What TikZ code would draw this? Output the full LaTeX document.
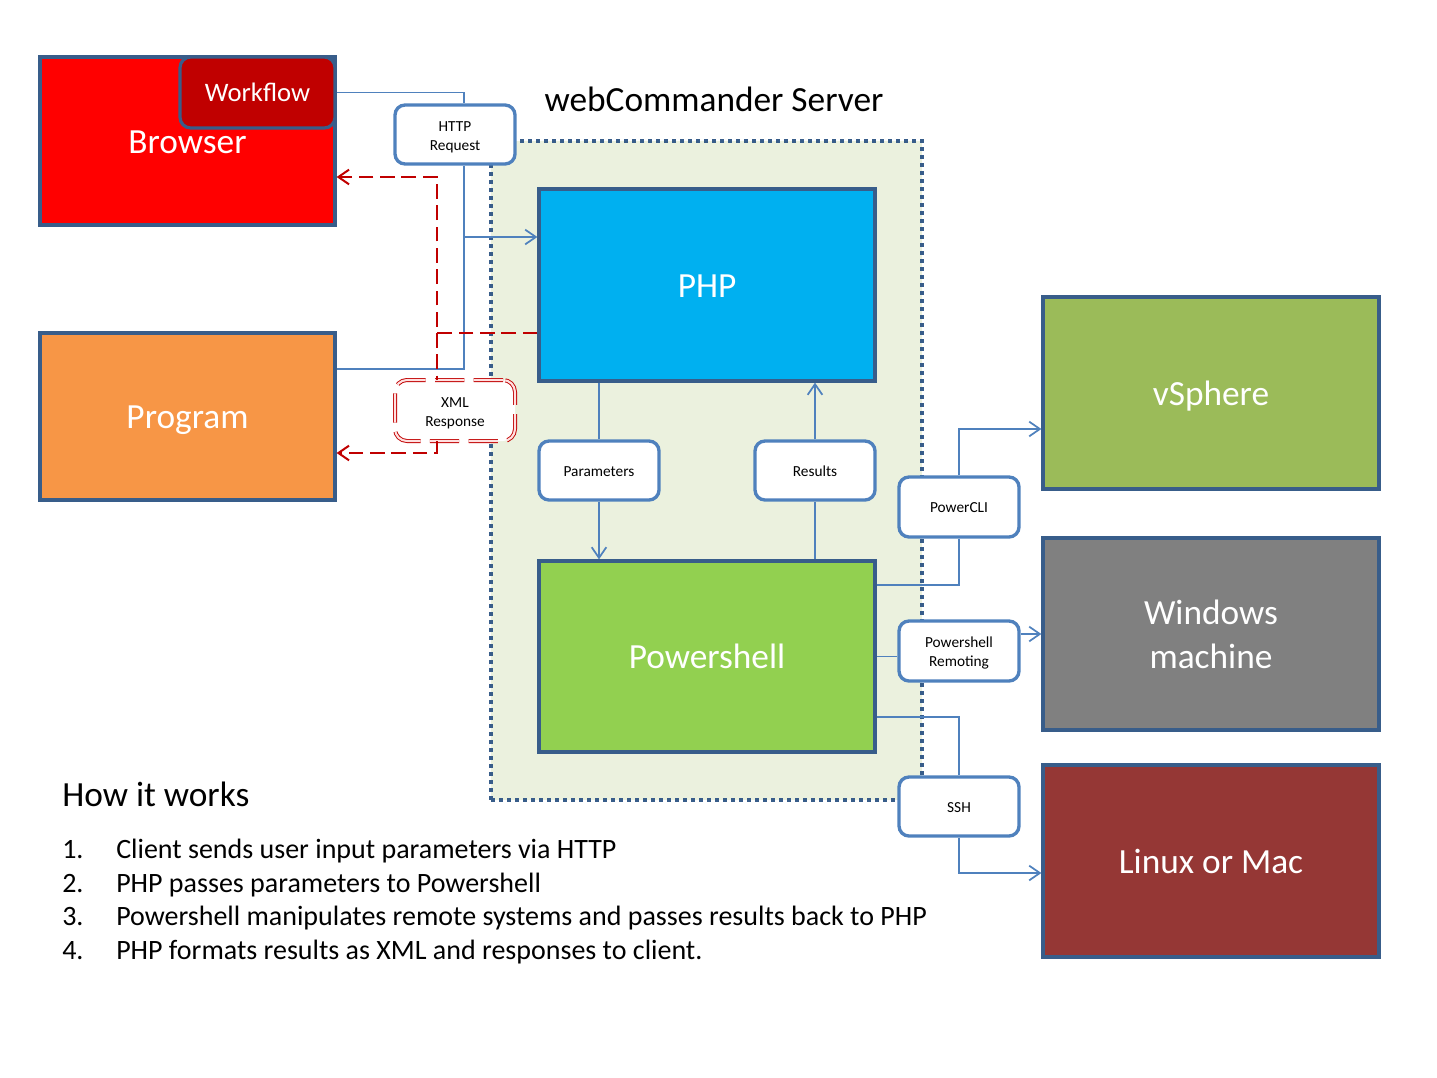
\documentclass[tikz,border=0pt]{standalone}
\usepackage{fontspec}
\setmainfont{Carlito}
\usetikzlibrary{arrows.meta}
\definecolor{bdr}{HTML}{385D8A}
\definecolor{lbl}{HTML}{4F81BD}
\definecolor{dred}{HTML}{C00000}
\definecolor{contfill}{HTML}{EBF1DE}
\definecolor{cBrowser}{HTML}{FF0000}
\definecolor{cWorkflow}{HTML}{C00000}
\definecolor{cProgram}{HTML}{F79646}
\definecolor{cPHP}{HTML}{00B0F0}
\definecolor{cPS}{HTML}{92D050}
\definecolor{cVS}{HTML}{9BBB59}
\definecolor{cWin}{HTML}{808080}
\definecolor{cLin}{HTML}{953735}
\newcommand{\lblstrut}{\rule{0pt}{11.4pt}}
\begin{document}
\begin{tikzpicture}[x=0.75pt,y=-0.75pt,
  bigbox/.style={draw=bdr, line width=2.4pt, text=white, font=\fontsize{26.5}{33}\selectfont,
    align=center, inner sep=0pt, minimum width=252pt, minimum height=144pt,
    text height=23.85pt, text depth=5.3pt},
  lblbox/.style={draw=lbl, line width=2.5pt, fill=white, rounded corners=7.5pt,
    font=\fontsize{11.5}{14.25}\selectfont, align=center, inner sep=0pt,
    minimum width=90pt, minimum height=44.25pt, text height=11.16pt, text depth=2.3pt},
  multi/.style={text height=, text depth=},
  conn/.style={draw=lbl, line width=1.3pt},
  tip/.style={-{Straight Barb[length=8pt,width=11pt]}},
  resp/.style={draw=dred, line width=1.5pt, dash pattern=on 11pt off 5pt},
  listtxt/.style={font=\fontsize{21}{25}\selectfont, anchor=base west, inner sep=0pt},
]
\useasboundingbox (0,0) rectangle (1437,1077);

% server container
\node[draw=bdr, fill=contfill, line width=3pt, dash pattern=on 3pt off 3pt,
  minimum width=323.25pt, minimum height=494.25pt, inner sep=0pt] (server) at (706.5,470.5) {};
\node[font=\fontsize{26.5}{30}\selectfont] (title) at (714,99) {webCommander Server};

% clients
\node[bigbox, fill=cBrowser, minimum width=221.25pt, minimum height=126pt] (browser) at (187.5,141) {Browser};
\node[draw=bdr, line width=2.4pt, fill=cWorkflow, rounded corners=8pt, text=white,
  font=\fontsize{20}{24}\selectfont, inner sep=0pt, minimum width=116.25pt, minimum height=53.25pt]
  (workflow) at (257.5,92.5) {Workflow};
\node[bigbox, fill=cProgram, minimum width=221.25pt, minimum height=125.25pt] (program) at (187.5,416.5) {Program};

% server parts
\node[bigbox, fill=cPHP] (php) at (707,285) {PHP};
\node[bigbox, fill=cPS, minimum height=143.25pt] (pshell) at (707,656.5) {Powershell};

% targets
\node[bigbox, fill=cVS] (vsphere) at (1211,393) {vSphere};
\node[bigbox, multi, fill=cWin] (windows) at (1211,634) {Windows\\machine};
\node[bigbox, fill=cLin] (linux) at (1211,861) {Linux or Mac};

% labels
\node[lblbox, multi] (http) at (455,134.5) {\lblstrut HTTP\\Request};
\node[lblbox, multi, draw=dred, line width=0.7pt, double=red!12, double distance=1.6pt,
  dash pattern=on 22pt off 7pt, rounded corners=9pt, minimum height=45.75pt] (xml) at (455,410.5) {\lblstrut XML\\Response};
\node[lblbox] (params) at (599,470.5) {Parameters};
\node[lblbox] (results) at (815,470.5) {Results};
\node[lblbox, minimum height=45pt] (powercli) at (959,507) {PowerCLI};
\node[lblbox, multi, minimum height=45pt] (remoting) at (959,651) {\lblstrut Powershell\\Remoting};
\node[lblbox] (ssh) at (959,806.5) {SSH};

% helper coordinates
\coordinate (hx) at (464,0);
\coordinate (j1) at (464,369);
\coordinate (j2) at (464,237);
\coordinate (r1) at (437,333);
\coordinate (r2) at (437,177);
\coordinate (r3) at (437,453);
\coordinate (y585) at (0,585);
\coordinate (y429) at (0,429);
\coordinate (y717) at (0,717);
\coordinate (y873) at (0,873);

% request connectors
\draw[conn] (workflow.east) -| (http.north -| hx);
\draw[conn] (http.south -| hx) -- (j1) -- (j1 -| program.east);
\draw[conn, tip] (j2) -- (j2 -| php.west);

% response connectors
\draw[resp, tip] (r1 -| php.west) -- (r1) -- (r2) -- (r2 -| browser.east);
\draw[resp] (r1) -- (r1 |- xml.north);
\draw[resp, tip] (r1 |- xml.south) -- (r3) -- (r3 -| program.east);

% internal
\draw[conn] (php.south -| params.north) -- (params.north);
\draw[conn, tip] (params.south) -- (params.south |- pshell.north);
\draw[conn] (results.south |- pshell.north) -- (results.south);
\draw[conn, tip] (results.north) -- (results.north |- php.south);

% remote
\draw[conn] (pshell.east |- y585) -| (powercli.south);
\draw[conn, tip] (powercli.north) |- (vsphere.west |- y429);
\draw[conn] (pshell.east) -- (pshell.east -| remoting.west);
\draw[conn, tip] (windows.west -| remoting.east) -- (windows.west);
\draw[conn] (pshell.east |- y717) -| (ssh.north);
\draw[conn, tip] (ssh.south) |- (linux.west |- y873);

% how it works
\node[font=\fontsize{26.5}{30}\selectfont, anchor=base west, inner sep=0pt] (how) at (62,806) {How it works};
\node[listtxt] (n1) at (62,858) {1.};
\node[listtxt] (t1) at (116,858) {Client sends user input parameters via HTTP};
\node[listtxt] (n2) at (62,892.5) {2.};
\node[listtxt] (t2) at (116,892.5) {PHP passes parameters to Powershell};
\node[listtxt] (n3) at (62,925.5) {3.};
\node[listtxt] (t3) at (116,925.5) {Powershell manipulates remote systems and passes results back to PHP};
\node[listtxt] (n4) at (62,959) {4.};
\node[listtxt] (t4) at (116,959) {PHP formats results as XML and responses to client.};
\end{tikzpicture}
\end{document}
